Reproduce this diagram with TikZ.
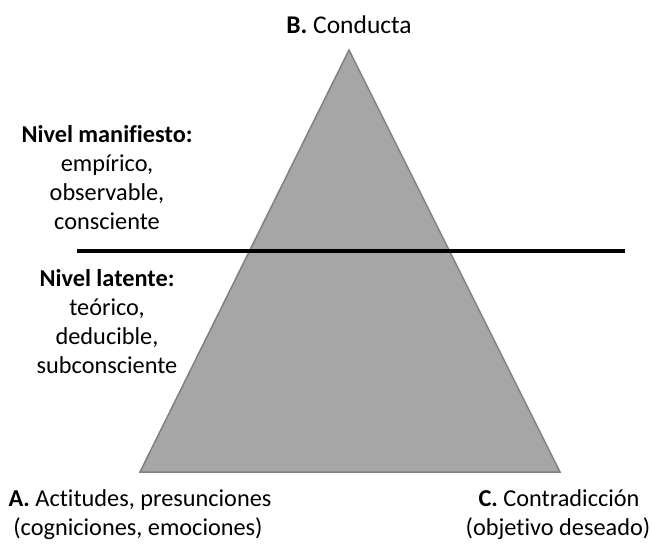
\documentclass[tikz,border=0pt]{standalone}
\usepackage{fontspec}
\setmainfont{Carlito}[Ligatures={NoCommon,NoRare,NoContextual}]
\definecolor{triFill}{HTML}{A6A6A6}
\definecolor{triEdge}{HTML}{808080}
\begin{document}
\begin{tikzpicture}[x=1pt,y=-1pt,
  lbl/.style={inner sep=0pt, anchor=base, font=\fontsize{24.3}{29}\selectfont}]
\useasboundingbox (0,0) rectangle (652,544);
\coordinate (B) at (349,50);
\coordinate (A) at (140,472);
\coordinate (C) at (560,472);
\filldraw[fill=triFill, draw=triEdge, line width=1.5pt, line join=miter] (A) -- (B) -- (C) -- cycle;
\coordinate (L1) at (77,250.7);
\coordinate (L2) at (625,250.7);
\draw[line width=4.3pt] (L1) -- (L2);
% top label
\node[lbl, font=\fontsize{25.5}{30}\selectfont] (tB) at (349,33) {\textbf{B.} Conducta};
% manifest level
\node[lbl] (m1) at (107,142.3) {\textbf{Nivel manifiesto:}};
\node[lbl] (m2) at (107,171.3) {empírico,};
\node[lbl] (m3) at (107,200.3) {observable,};
\node[lbl] (m4) at (107,229.3) {consciente};
% latent level
\node[lbl] (l1) at (107,286.7) {\textbf{Nivel latente:}};
\node[lbl] (l2) at (107,315.7) {teórico,};
\node[lbl] (l3) at (107,344.7) {deducible,};
\node[lbl] (l4) at (107,373.7) {subconsciente};
% bottom labels
\node[lbl] (a1) at (140,506.6) {\textbf{A.} Actitudes, presunciones};
\node[lbl] (a2) at (138,535.6) {(cogniciones, emociones)};
\node[lbl] (c1) at (559,506.6) {\textbf{C.} Contradicción};
\node[lbl] (c2) at (558,535.6) {(objetivo deseado)};
\end{tikzpicture}
\end{document}
